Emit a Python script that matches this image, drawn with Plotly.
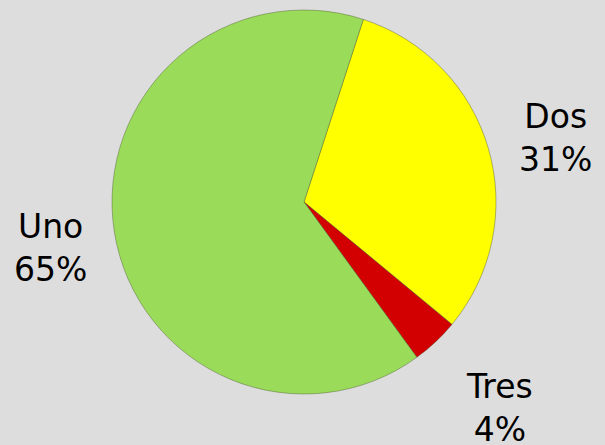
import plotly.graph_objects as go

labels = ["Dos", "Tres", "Uno"]
values = [31, 4, 65]
colors = ["#FFFF00", "#D20000", "#9ADC5A"]

total = sum(values)
pcts = [round(v * 100 / total) for v in values]

# label placement (paper coords) for each category
label_pos = {"Dos": (0.919, 0.69), "Tres": (0.825, 0.083), "Uno": (0.084, 0.443)}

fig = go.Figure()
fig.add_trace(go.Pie(
    labels=labels,
    values=values,
    sort=False,
    direction="clockwise",
    rotation=18,
    textinfo="none",
    hoverinfo="label+percent",
    marker=dict(colors=colors, line=dict(color="rgba(70,80,40,0.5)", width=0.8)),
    domain=dict(x=[112/605, 496/605], y=[51/445, 435/445]),
    showlegend=False,
))

for lab, p in zip(labels, pcts):
    x, y = label_pos[lab]
    fig.add_annotation(
        x=x, y=y, xref="paper", yref="paper",
        text=f"{lab}<br>{p}%",
        showarrow=False, xanchor="center", yanchor="middle",
        font=dict(family="DejaVu Sans", size=33, color="#000000"),
        align="center",
    )

fig.update_layout(
    width=605, height=445,
    margin=dict(l=0, r=0, t=0, b=0),
    paper_bgcolor="#DDDDDD",
    plot_bgcolor="#DDDDDD",
)

fig.write_html(
    "out.html",
    config={"displayModeBar": False},
    post_script="document.body.style.margin='0';document.body.style.overflow='hidden';document.body.style.background='#DDDDDD';",
)
